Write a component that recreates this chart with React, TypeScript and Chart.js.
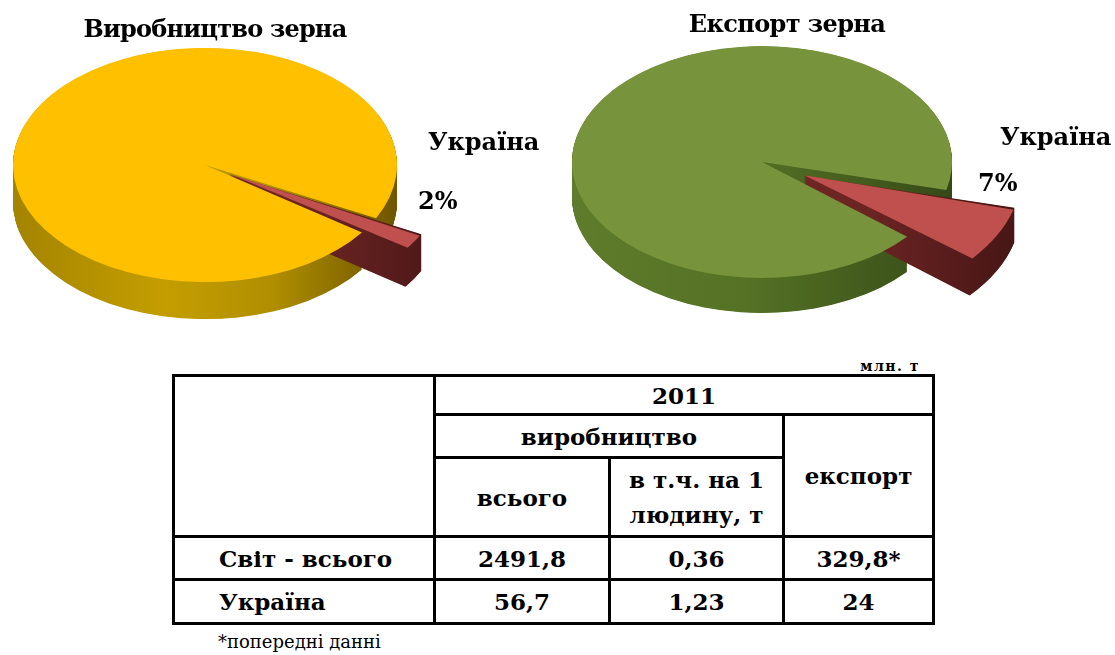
import React, { useEffect, useRef } from "react";
import { Chart, registerables } from "chart.js";

Chart.register(...registerables);

// ---------- data ----------
const sliceLabels = ["Україна", "Інші країни"];
const productionValues = [56.7, 2435.1]; // млн. т, 2011 (Україна, решта світу)
const exportValues = [24, 305.8];
const pieTitles = ["Виробництво зерна", "Експорт зерна"];

const unitLabel = "млн. т";
const yearLabel = "2011";
const groupLabel = "виробництво";
const subHeaders = ["всього", "в т.ч. на 1\nлюдину, т"];
const exportHeader = "експорт";
const rowLabels = ["Світ - всього", "Україна"];
const productionTotal = [2491.8, 56.7];
const productionPerCapita = [0.36, 1.23];
const exportTotal = [329.8, 24];
const exportMarks = ["*", ""];
const footnote = "*попередні данні";

// ---------- helpers ----------
const fmt = (v: number) => String(v).replace(".", ",");
const pct = (vals: number[], i: number) =>
  Math.round((vals[i] / vals.reduce((a, b) => a + b, 0)) * 100) + "%";

const SERIF = "'DejaVu Serif', serif";

function slicePath(ctx: CanvasRenderingContext2D, arc: any) {
  const { x, y, startAngle, endAngle, outerRadius } = arc;
  const off = (arc.options.offset || 0) / 4;
  const circ = endAngle - startAngle;
  const fix = 1 - Math.sin(Math.min(Math.PI, circ));
  const mid = (startAngle + endAngle) / 2;
  const ox = x + Math.cos(mid) * off;
  const oy = y + Math.sin(mid) * off;
  const r = outerRadius + off * fix;
  ctx.beginPath();
  ctx.moveTo(ox, oy);
  ctx.arc(ox, oy, r, startAngle, endAngle);
  ctx.closePath();
}

const pie3dPlugin = {
  id: "pie3d",
  beforeDatasetsDraw(chart: any, _args: any, opts: any) {
    const ctx = chart.ctx as CanvasRenderingContext2D;
    ctx.save();
    const arcs = chart.getDatasetMeta(0).data;
    if (!arcs.length) return;
    const cy = arcs[0].y;
    const k = opts.tilt;
    ctx.translate(0, cy);
    ctx.scale(1, k);
    ctx.translate(0, -cy);
    for (const i of opts.order) {
      const arc = arcs[i];
      const r = arc.outerRadius;
      const g = ctx.createLinearGradient(arc.x - r, 0, arc.x + r + 50, 0);
      opts.sideStops[i].forEach((s: [number, string]) => g.addColorStop(s[0], s[1]));
      ctx.fillStyle = g;
      for (let d = opts.depth; d > 0; d -= 0.5) {
        ctx.save();
        ctx.translate(0, d / k);
        slicePath(ctx, arc);
        ctx.fill();
        ctx.restore();
      }
    }
  },
  afterDatasetsDraw(chart: any) {
    chart.ctx.restore();
  },
};

type PieProps = {
  values: number[];
  colors: string[];
  sideStops: [number, string][][];
  rotation: number;
  offsets: number[];
  radius: number;
  tilt: number;
  depth: number;
  padding: { left: number; right: number; top: number; bottom: number };
  left: number;
  top: number;
  width: number;
  height: number;
};

function Pie3D(p: PieProps) {
  const ref = useRef<HTMLCanvasElement | null>(null);
  useEffect(() => {
    if (!ref.current) return;
    const chart = new Chart(ref.current, {
      type: "pie",
      data: {
        labels: sliceLabels,
        datasets: [
          {
            data: p.values,
            backgroundColor: p.colors,
            borderWidth: 0,
            offset: p.offsets,
            clip: false as any,
          } as any,
        ],
      },
      options: {
        responsive: false,
        maintainAspectRatio: false,
        animation: false,
        events: [],
        rotation: p.rotation,
        radius: p.radius,
        layout: { padding: p.padding },
        plugins: {
          legend: { display: false },
          tooltip: { enabled: false },
          pie3d: { tilt: p.tilt, depth: p.depth, order: [1, 0], sideStops: p.sideStops },
        } as any,
      } as any,
      plugins: [pie3dPlugin as any],
    });
    return () => chart.destroy();
  }, []);
  return (
    <canvas
      ref={ref}
      width={p.width}
      height={p.height}
      style={{ position: "absolute", left: p.left, top: p.top, width: p.width, height: p.height }}
    />
  );
}

const bigText: React.CSSProperties = {
  position: "absolute",
  fontFamily: SERIF,
  fontWeight: "bold",
  fontSize: 24,
  lineHeight: "24px",
  color: "#000",
  whiteSpace: "nowrap",
};

const B = "3px solid #000";
const cell: React.CSSProperties = {
  border: B,
  padding: 0,
  textAlign: "center",
  verticalAlign: "middle",
  fontFamily: SERIF,
  fontWeight: "bold",
  fontSize: 23,
  lineHeight: "35px",
  color: "#000",
};

export default function App() {
  const redStops: [number, string][] = [
    [0, "#7a2e2c"],
    [0.7, "#6a2422"],
    [1, "#4a1717"],
  ];
  return (
    <div
      style={{
        position: "absolute",
        left: 0,
        top: 0,
        width: 1115,
        height: 655,
        background: "#fff",
        overflow: "hidden",
      }}
    >
      <Pie3D
        values={productionValues}
        colors={["#C0504D", "#FFC000"]}
        sideStops={[
          redStops,
          [
            [0, "#a48400"],
            [0.35, "#c49e00"],
            [0.6, "#b08e00"],
            [0.82, "#7c6100"],
            [1, "#574400"],
          ],
        ]}
        rotation={117}
        offsets={[112, 0]}
        radius={192}
        tilt={0.61}
        depth={37}
        padding={{ left: 0, right: 150, top: 0, bottom: 10 }}
        left={0}
        top={0}
        width={560}
        height={340}
      />
      <Pie3D
        values={exportValues}
        colors={["#C0504D", "#77933C"]}
        sideStops={[
          redStops,
          [
            [0, "#5e7c2b"],
            [0.4, "#557225"],
            [0.75, "#3f561b"],
            [1, "#2a3c11"],
          ],
        ]}
        rotation={104}
        offsets={[190, 0]}
        radius={190}
        tilt={0.61}
        depth={35}
        padding={{ left: 0, right: 151, top: 0, bottom: 16 }}
        left={560}
        top={0}
        width={555}
        height={340}
      />

      <div style={{ ...bigText, left: 15, top: 17, width: 400, textAlign: "center", letterSpacing: -0.8 }}>
        {pieTitles[0]}
      </div>
      <div style={{ ...bigText, left: 587, top: 12, width: 400, textAlign: "center", letterSpacing: -0.6 }}>
        {pieTitles[1]}
      </div>
      <div style={{ ...bigText, left: 428, top: 130 }}>{sliceLabels[0]}</div>
      <div style={{ ...bigText, left: 418, top: 189 }}>{pct(productionValues, 0)}</div>
      <div style={{ ...bigText, left: 1000, top: 125 }}>{sliceLabels[0]}</div>
      <div style={{ ...bigText, left: 978, top: 171 }}>{pct(exportValues, 0)}</div>

      <div
        style={{
          position: "absolute",
          left: 820,
          top: 359,
          width: 100,
          textAlign: "right",
          fontFamily: SERIF,
          fontWeight: "bold",
          fontSize: 14,
          lineHeight: "14px",
          letterSpacing: 1.5,
          whiteSpace: "nowrap",
        }}
      >
        {unitLabel}
      </div>

      <table
        style={{
          position: "absolute",
          left: 172,
          top: 374,
          width: 760,
          borderCollapse: "collapse",
          tableLayout: "fixed",
        }}
      >
        <colgroup>
          <col style={{ width: 261 }} />
          <col style={{ width: 175 }} />
          <col style={{ width: 174 }} />
          <col style={{ width: 150 }} />
        </colgroup>
        <tbody>
          <tr style={{ height: 39 }}>
            <td style={cell} rowSpan={3}></td>
            <td style={cell} colSpan={3}>
              {yearLabel}
            </td>
          </tr>
          <tr style={{ height: 43 }}>
            <td style={cell} colSpan={2}>
              {groupLabel}
            </td>
            <td style={cell} rowSpan={2}>
              {exportHeader}
            </td>
          </tr>
          <tr style={{ height: 79 }}>
            <td style={cell}>{subHeaders[0]}</td>
            <td style={{ ...cell, whiteSpace: "pre-line" }}>{subHeaders[1]}</td>
          </tr>
          {rowLabels.map((lab, i) => (
            <tr key={lab} style={{ height: i === 0 ? 43 : 44 }}>
              <td style={{ ...cell, textAlign: "left", paddingLeft: 44 }}>{lab}</td>
              <td style={cell}>{fmt(productionTotal[i])}</td>
              <td style={cell}>{fmt(productionPerCapita[i])}</td>
              <td style={cell}>{fmt(exportTotal[i]) + exportMarks[i]}</td>
            </tr>
          ))}
        </tbody>
      </table>

      <div
        style={{
          position: "absolute",
          left: 218,
          top: 633,
          fontFamily: SERIF,
          fontSize: 18,
          lineHeight: "18px",
          color: "#000",
          whiteSpace: "nowrap",
        }}
      >
        {footnote}
      </div>
    </div>
  );
}
